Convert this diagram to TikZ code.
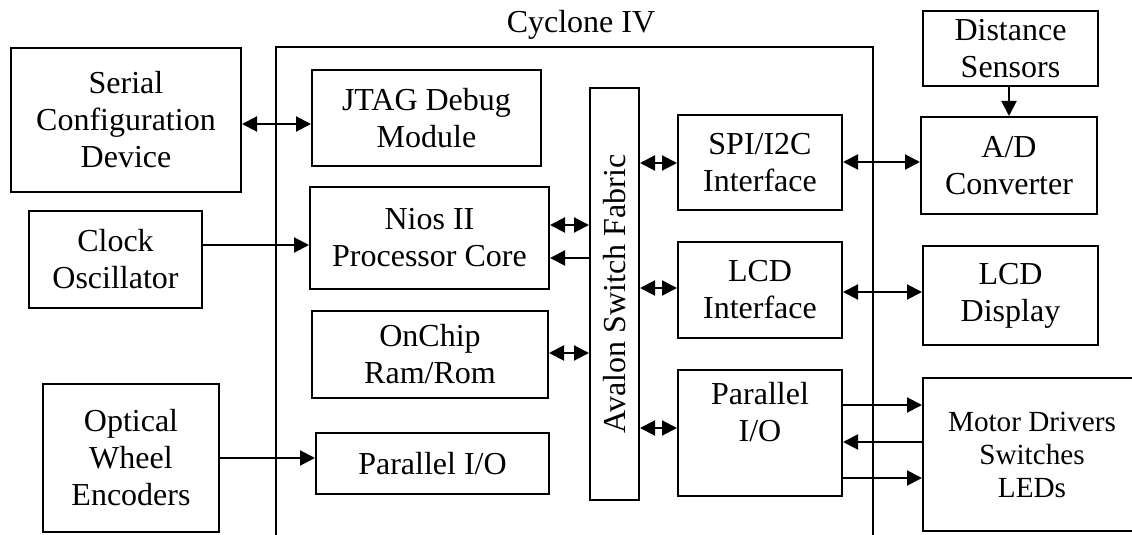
\documentclass[tikz,border=0pt]{standalone}
\usepackage{fontspec}
\setmainfont{Liberation Serif}
\usetikzlibrary{arrows.meta}

\begin{document}
\begin{tikzpicture}[
    x=0.5pt,
    y=-0.5pt,
    >={Triangle[length=7.5pt,width=7.5pt]},
    line width=1pt,
    block/.style={draw, align=center, inner sep=2pt,
        font=\fontsize{16}{18.5}\selectfont},
    small/.style={font=\fontsize{14.6}{16.5}\selectfont},
    link/.style={->},
    both/.style={<->}
]

\clip (0,0) rectangle (1132,535);

% =========================
% Cyclone IV frame
% =========================
\draw (276,545) -- (276,47) -- (873,47) -- (873,545);
\node[font=\fontsize{16}{18.5}\selectfont] (chip) at (581,25) {Cyclone IV};

% =========================
% Outside blocks (left)
% =========================
\node[block, minimum width=115pt, minimum height=72pt] (serial) at (126,120)
    {Serial\\Configuration\\Device};
\node[block, minimum width=86.5pt, minimum height=48.5pt] (clock) at (115.5,259.5)
    {Clock\\Oscillator};
\node[block, minimum width=88pt, minimum height=74pt] (optical) at (131,458)
    {Optical\\Wheel\\Encoders};

% =========================
% Inside the FPGA
% =========================
\node[block, minimum width=114.5pt, minimum height=48pt] (jtag) at (426.5,118)
    {JTAG Debug\\Module};
\node[block, minimum width=119.5pt, minimum height=51pt] (nios) at (429.5,238)
    {Nios II\\Processor Core};
\node[block, minimum width=118pt, minimum height=43.5pt] (onchip) at (430,354.5)
    {OnChip\\Ram/Rom};
\node[block, minimum width=116.5pt, minimum height=30.5pt] (pioin) at (432.5,463.5)
    {Parallel I/O};
\node[block, rotate=90, inner sep=1pt, minimum width=206pt, minimum height=24.5pt]
    (avalon) at (614.5,294) {Avalon Switch Fabric};
\node[block, minimum width=82pt, minimum height=47.5pt] (spi) at (760,162.5)
    {SPI/I2C\\Interface};
\node[block, minimum width=82pt, minimum height=48pt] (lcdif) at (760,290)
    {LCD\\Interface};
\node[block, minimum width=82pt, minimum height=63pt] (pioout) at (760,433)
    {Parallel\\I/O\\[3pt]};

% =========================
% Outside blocks (right)
% =========================
\node[block, minimum width=87.5pt, minimum height=37.5pt] (dist) at (1010.5,48.5)
    {Distance\\Sensors};
\node[block, minimum width=88pt, minimum height=48.5pt] (adc) at (1009,165.5)
    {A/D\\Converter};
\node[block, minimum width=87.5pt, minimum height=49.5pt] (lcd) at (1010.5,295.5)
    {LCD\\Display};
\node[block, small, minimum width=109pt, minimum height=76.5pt] (motor) at (1032,454.5)
    {Motor Drivers\\Switches\\LEDs};

% =========================
% Connections
% =========================
\draw[both] (serial.east |- 0,124) -- (jtag.west |- 0,124);
\draw[link] (clock.east |- 0,245) -- (nios.west |- 0,245);
\draw[both] (nios.east |- 0,225) -- (avalon.north |- 0,225);
\draw[link] (avalon.north |- 0,258) -- (nios.east |- 0,258);
\draw[both] (onchip.east |- 0,353) -- (avalon.north |- 0,353);
\draw[link] (optical.east |- 0,458) -- (pioin.west |- 0,458);

\draw[both] (avalon.south |- 0,163) -- (spi.west |- 0,163);
\draw[both] (avalon.south |- 0,288) -- (lcdif.west |- 0,288);
\draw[both] (avalon.south |- 0,428) -- (pioout.west |- 0,428);

\draw[both] (spi.east |- 0,162) -- (adc.west |- 0,162);
\draw[both] (lcdif.east |- 0,292) -- (lcd.west |- 0,292);
\draw[link] (pioout.east |- 0,405) -- (motor.west |- 0,405);
\draw[link] (motor.west |- 0,442) -- (pioout.east |- 0,442);
\draw[link] (pioout.east |- 0,478) -- (motor.west |- 0,478);
\draw[link] (dist.south -| 1009,0) -- (adc.north -| 1009,0);

\end{tikzpicture}
\end{document}
